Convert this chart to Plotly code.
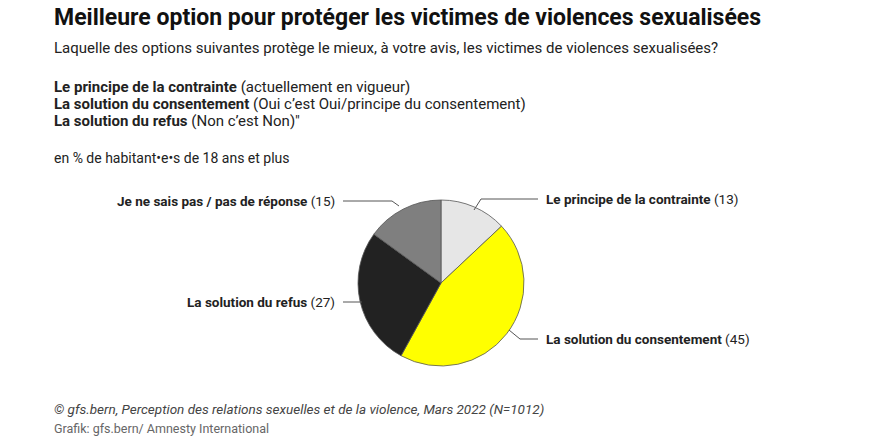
import plotly.graph_objects as go

labels = ["Le principe de la contrainte", "La solution du consentement", "La solution du refus", "Je ne sais pas / pas de réponse"]
values = [13, 45, 27, 15]
colors = ["#e6e6e6", "#ffff00", "#222222", "#7f7f7f"]

W, H = 873, 436
OFF = 8  # page body margin
def px(x): return (x - OFF) / W
def py(y): return 1 - (y - OFF) / H

fig = go.Figure(go.Pie(labels=labels, values=values, sort=False, direction="clockwise", rotation=0,
    marker=dict(colors=colors, line=dict(color="#555555", width=0.8)), textinfo="none",
    domain=dict(x=[px(358), px(524)], y=[py(366), py(200)]), showlegend=False))

F = "Roboto"
ann = []
def t(x, y, text, size=14, color="#222", xanchor="left"):
    ann.append(dict(x=px(x), y=py(y), xref="paper", yref="paper", text=text, showarrow=False,
                    xanchor=xanchor, yanchor="middle", font=dict(family=F, size=size, color=color)))
t(52, 17, "<b>Meilleure option pour protéger les victimes de violences sexualisées</b>", 23, "#111")
t(52, 48, "Laquelle des options suivantes protège le mieux, à votre avis, les victimes de violences sexualisées?", 15)
t(52, 87, "<b>Le principe de la contrainte</b> (actuellement en vigueur)", 15)
t(52, 104, "<b>La solution du consentement</b> (Oui c’est Oui/principe du consentement)", 15)
t(52, 121, "<b>La solution du refus</b> (Non c’est Non)\"", 15)
t(52, 158, "en % de habitant•e•s de 18 ans et plus", 14)
t(52, 409, "<i>© gfs.bern, Perception des relations sexuelles et de la violence, Mars 2022 (N=1012)</i>", 13.5, "#444")
t(52, 428, "Grafik: gfs.bern/ Amnesty International", 12.5, "#666")

pos = [(544, 199, "left"), (544, 339, "left"), (337, 302, "right"), (337, 201, "right")]
for (x, y, a), l, v in zip(pos, labels, values):
    t(x, y, f"<b>{l}</b> ({v})", 13.5, "#222", a)

lines = [[(474, 210), (481, 199), (538, 199)], [(509, 330), (520, 339), (538, 339)],
         [(362, 302), (343, 302)], [(399, 206), (392, 201), (343, 201)]]
shapes = []
for pts in lines:
    for (x0, y0), (x1, y1) in zip(pts, pts[1:]):
        shapes.append(dict(type="line", xref="paper", yref="paper", x0=px(x0), y0=py(y0), x1=px(x1), y1=py(y1),
                           line=dict(color="#555", width=1)))

fig.update_layout(width=W, height=H, margin=dict(l=0, r=0, t=0, b=0), paper_bgcolor="white",
                  annotations=ann, shapes=shapes)
fig.write_html("out.html")
